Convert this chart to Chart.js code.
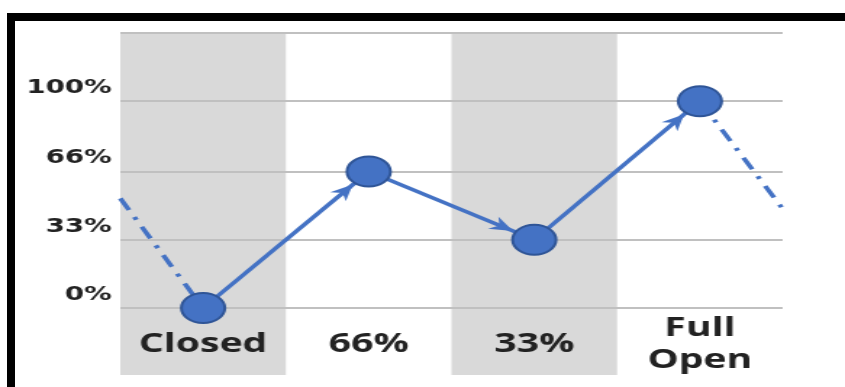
<!DOCTYPE html>
<html>
<head>
<meta charset="utf-8">
<script src="https://cdn.jsdelivr.net/npm/chart.js@4.4.1/dist/chart.umd.min.js"></script>
<style>
  html, body { margin: 0; padding: 0; background: #fff; }
  body { width: 845px; height: 387px; position: relative; overflow: hidden; }
  .frame { position: absolute; left: 7px; top: 13px; right: 0; bottom: 0; border-top: 8px solid #000; border-left: 8px solid #000; }
  #valveChart { position: absolute; left: 0; top: 0; }
</style>
</head>
<body>
<div class="frame"></div>
<!-- the picture is stretched sideways, so draw narrow and widen with css -->
<canvas id="valveChart" width="583" height="387" style="width:845px;height:387px"></canvas>
<script>
const categories = ['Closed', '66%', '33%', 'Full Open'];
const openness = [0, 66, 33, 100];
const yTicks = [0, 33, 66, 100, 133];
const yLabels = ['0%', '33%', '66%', '100%', ''];
const leadIn = [[-0.5, 53], [0, 0]];
const leadOut = [[3, 100], [3.5, 48]];
const shadedBands = [0, 2];

const BLUE = '#4472c4';
const TEXT = '#222222';

// grey columns behind every other category
const bandPlugin = {
  id: 'bands',
  beforeDraw(chart) {
    const { ctx, chartArea, scales: { x } } = chart;
    ctx.save();
    ctx.fillStyle = '#d9d9d9';
    shadedBands.forEach(i => {
      const left = x.getPixelForValue(i - 0.5);
      const right = x.getPixelForValue(i + 0.5);
      ctx.fillRect(left, chartArea.top, right - left, chart.height - 12 - chartArea.top);
    });
    ctx.restore();
  }
};

// arrow heads where each segment meets the next marker
const arrowPlugin = {
  id: 'arrows',
  afterDatasetsDraw(chart) {
    const pts = chart.getDatasetMeta(0).data;
    const ctx = chart.ctx;
    ctx.save();
    ctx.fillStyle = BLUE;
    for (let i = 1; i < pts.length; i++) {
      const a = pts[i - 1], b = pts[i];
      const ang = Math.atan2(b.y - a.y, b.x - a.x);
      const r = b.options.radius + b.options.borderWidth;
      ctx.save();
      ctx.translate(b.x - Math.cos(ang) * r, b.y - Math.sin(ang) * r);
      ctx.rotate(ang);
      ctx.beginPath();
      ctx.moveTo(0, 0);
      ctx.lineTo(-16, -7);
      ctx.lineTo(-11, 0);
      ctx.lineTo(-16, 7);
      ctx.closePath();
      ctx.fill();
      ctx.restore();
    }
    ctx.restore();
  }
};

const dashed = (pts) => ({
  data: pts.map(p => ({ x: p[0], y: p[1] })),
  borderColor: BLUE,
  borderWidth: 3.5,
  borderDash: [13, 8, 3, 8],
  pointRadius: 0,
  tension: 0,
  clip: false
});

new Chart(document.getElementById('valveChart'), {
  type: 'line',
  data: {
    datasets: [
      {
        data: categories.map((c, i) => ({ x: i, y: openness[i] })),
        borderColor: BLUE,
        borderWidth: 3.5,
        pointRadius: 15,
        pointBorderWidth: 2,
        pointBackgroundColor: BLUE,
        pointBorderColor: '#2f5597',
        tension: 0,
        clip: false
      },
      dashed(leadIn),
      dashed(leadOut)
    ]
  },
  options: {
    responsive: false,
    animation: false,
    devicePixelRatio: 1,
    layout: { padding: { top: 33, right: 43, left: 0, bottom: 0 } },
    plugins: { legend: { display: false }, tooltip: { enabled: false } },
    scales: {
      x: {
        type: 'linear',
        min: -0.5,
        max: 3.5,
        afterBuildTicks: s => { s.ticks = categories.map((c, i) => ({ value: i })); },
        afterFit: s => { s.height = 79; },
        grid: { display: false, drawTicks: false },
        border: { display: false },
        ticks: {
          padding: 20,
          crossAlign: 'center',
          maxRotation: 0,
          color: TEXT,
          font: { family: 'Open Sans', size: 27, weight: 'bold', lineHeight: 1.2 },
          callback: v => {
            const label = categories[v];
            return label.includes(' ') ? label.split(' ') : label;
          }
        }
      },
      y: {
        min: 0,
        max: 133,
        afterBuildTicks: s => { s.ticks = yTicks.map(v => ({ value: v })); },
        afterFit: s => { s.width = 83; },
        grid: { color: '#c0c0c0', lineWidth: 2, drawTicks: false },
        border: { display: false },
        ticks: {
          padding: 6,
          labelOffset: -13,
          color: TEXT,
          font: { family: 'DejaVu Sans', size: 19, weight: 'bold' },
          callback: v => yLabels[yTicks.indexOf(v)]
        }
      }
    }
  },
  plugins: [bandPlugin, arrowPlugin]
});
</script>
</body>
</html>
